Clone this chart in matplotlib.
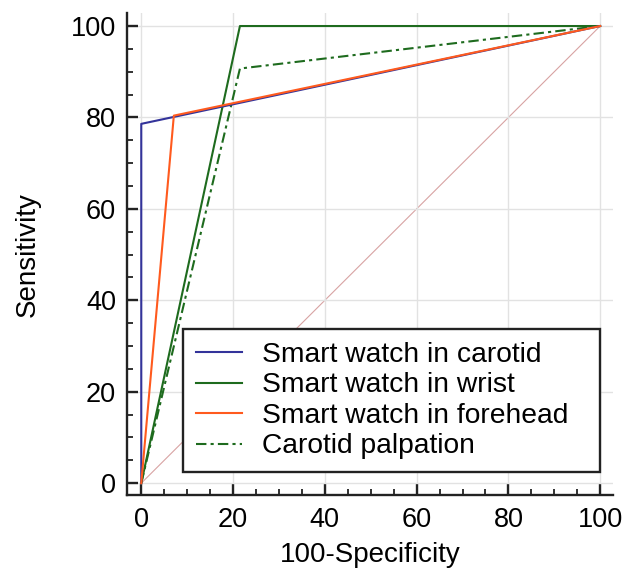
import matplotlib
matplotlib.use('Agg')
import matplotlib.pyplot as plt
from matplotlib.ticker import MultipleLocator

plt.rcParams['font.family'] = ['Liberation Sans', 'DejaVu Sans']

# ROC points (100-Specificity, Sensitivity)
carotid_x = [0, 0, 100]
carotid_y = [0, 78.6, 100]
wrist_x = [0, 21.5, 100]
wrist_y = [0, 100, 100]
forehead_x = [0, 7.1, 100]
forehead_y = [0, 80.4, 100]
palpation_x = [0, 21.5, 100]
palpation_y = [0, 90.7, 100]
diag = [0, 100]

labels = ['Smart watch in carotid', 'Smart watch in wrist',
          'Smart watch in forehead', 'Carotid palpation']
ticks = [0, 20, 40, 60, 80, 100]

fig = plt.figure(figsize=(6.32, 5.75), dpi=100)
ax = fig.add_axes([0.201, 0.139, 0.769, 0.838])

ax.plot(diag, diag, color='#d8a3a3', lw=0.8, zorder=1)
ax.plot(carotid_x, carotid_y, color='#33339a', lw=1.5, label=labels[0], zorder=3)
ax.plot(wrist_x, wrist_y, color='#1e6b1e', lw=1.5, label=labels[1], zorder=2)
ax.plot(forehead_x, forehead_y, color='#ff5a1e', lw=1.5, label=labels[2], zorder=4)
ax.plot(palpation_x, palpation_y, color='#1e6b1e', lw=1.5,
        linestyle=(0, (5, 2, 1.5, 2)), label=labels[3], zorder=2)

ax.set_xlim(-3.1, 102.8)
ax.set_ylim(-2.6, 102.8)
ax.set_xticks(ticks)
ax.set_yticks(ticks)
ax.xaxis.set_minor_locator(MultipleLocator(5))
ax.yaxis.set_minor_locator(MultipleLocator(5))
ax.grid(True, which='major', color='#e2e2e2', lw=1.0, zorder=0)

for s in ['top', 'right']:
    ax.spines[s].set_visible(False)
for s in ['left', 'bottom']:
    ax.spines[s].set_linewidth(1.7)
    ax.spines[s].set_color('#222222')

ax.tick_params(which='major', direction='in', length=8, width=1.7,
               labelsize=19.5, color='#222222')
ax.tick_params(axis='x', which='major', pad=8.5)
ax.tick_params(axis='y', which='major', pad=8)
ax.tick_params(which='minor', direction='in', length=4.5, width=1.3,
               color='#222222')

ax.set_xlabel('100-Specificity', fontsize=20, labelpad=6.5)
ax.set_ylabel('Sensitivity', fontsize=20, labelpad=21.5)

leg = ax.legend(loc='lower left', bbox_to_anchor=(0.1155, 0.0477, 0.858, 0.1),
                mode='expand', fontsize=20.3,
                frameon=True, fancybox=False, edgecolor='#222222',
                framealpha=1, labelspacing=0.16, handlelength=1.65,
                handletextpad=0.68, borderpad=0.45, borderaxespad=0)
leg.get_frame().set_linewidth(1.7)

fig.savefig('out.png', dpi=100)
